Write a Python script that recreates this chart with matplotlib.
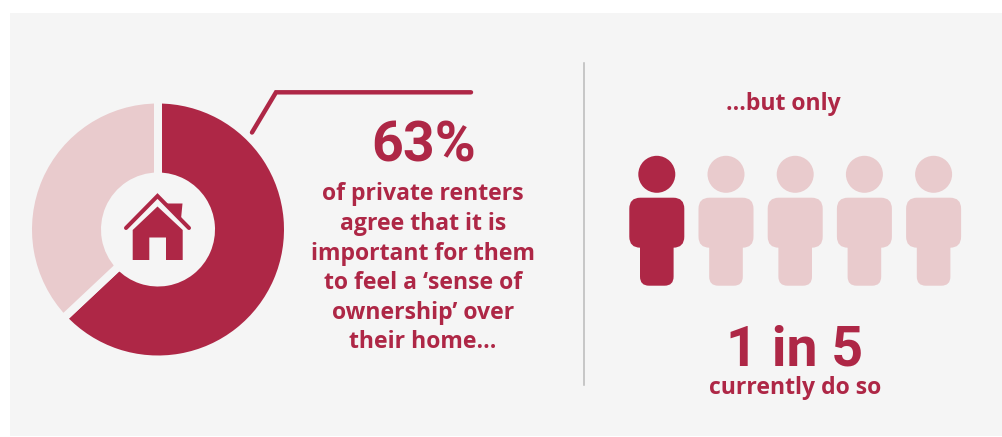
import matplotlib
matplotlib.use('Agg')
import matplotlib.pyplot as plt
from matplotlib.patches import Circle, FancyBboxPatch, Polygon, Rectangle

agree_share = [63, 37]
people_total = 5
people_highlighted = 1

headline = '63%'
agree_lines = ['of private renters', 'agree that it is', 'important for them',
               'to feel a ‘sense of', 'ownership’ over', 'their home...']
lead_in = '...but only'
ratio = '1 in 5'
ratio_note = 'currently do so'

RED = '#ae2746'
PINK = '#e9cbcd'
PANEL = '#f5f5f5'
W, H = 1003, 437

plt.rcParams['font.family'] = ['Open Sans', 'DejaVu Sans']
BIG_FONT = ['Roboto', 'DejaVu Sans']

fig = plt.figure(figsize=(W / 100, H / 100), dpi=100)
ax = fig.add_axes([0, 0, 1, 1])


def Y(py):
    # work in pixels measured from the top
    return H - py


# background panel
ax.add_patch(Rectangle((10, Y(436)), 993, 423, fc=PANEL, ec='none', zorder=0))

# donut, the panel-coloured edge makes the gaps between the slices
ax.pie(agree_share, colors=[RED, PINK], startangle=90, counterclock=False,
       center=(158, Y(229.5)), radius=130, frame=True,
       wedgeprops=dict(width=77, edgecolor=PANEL, linewidth=5.76))

# house icon
ax.plot([126, 157.5, 189], [Y(228), Y(196), Y(228)], color=RED, lw=2.9,
        solid_capstyle='round', solid_joinstyle='miter', zorder=3)
ax.add_patch(Polygon([(167, Y(203.5)), (182.5, Y(203.5)), (181, Y(219)), (167, Y(206))],
                     fc=RED, ec='none', zorder=3))
ax.add_patch(Polygon([(157.5, Y(206.5)), (182.7, Y(230)), (182.7, Y(260)), (166, Y(260)),
                      (166, Y(237.5)), (149.3, Y(237.5)), (149.3, Y(260)), (132.7, Y(260)),
                      (132.7, Y(230))], fc=RED, ec='none', zorder=3))

# leader line from the donut to the headline
ax.plot([252, 276, 471], [Y(132.5), Y(92.3), Y(92.3)], color=RED, lw=3.2,
        solid_capstyle='round', solid_joinstyle='miter', zorder=3)

ax.text(423.5, Y(161.5), headline, color=RED, fontsize=40, fontweight='bold',
        family=BIG_FONT, ha='center', va='baseline')
line_ys = [191.5, 221, 250.5, 280, 310, 339]
for txt, py in zip(agree_lines, line_ys):
    ax.text(423, Y(py), txt, color=RED, fontsize=16.6, fontweight='bold',
            ha='center', va='center_baseline')

# divider
ax.plot([584, 584], [Y(63), Y(385)], color='#b9b9b9', lw=1.1, zorder=1)

ax.text(783, Y(101.5), lead_in, color=RED, fontsize=16.6, fontweight='bold',
        ha='center', va='center_baseline')

# row of people, the highlighted ones come first
for i in range(people_total):
    col = RED if i < people_highlighted else PINK
    cx = 656.8 + i * 69.2
    ax.add_patch(Circle((cx, Y(174.3)), 18.5, fc=col, ec='none', zorder=2))
    ax.add_patch(FancyBboxPatch((cx - 27.5 + 11, Y(247.7) + 11), 33, 28,
                                boxstyle='round,pad=11,rounding_size=11',
                                fc=col, ec='none', zorder=2))
    ax.add_patch(FancyBboxPatch((cx - 16.8 + 9, Y(285.7) + 9), 15.6, 50,
                                boxstyle='round,pad=9,rounding_size=9',
                                fc=col, ec='none', zorder=2))

ax.text(795, Y(366), ratio, color=RED, fontsize=40, fontweight='bold',
        family=BIG_FONT, ha='center', va='baseline')
ax.text(795, Y(385), ratio_note, color=RED, fontsize=16.6, fontweight='bold',
        ha='center', va='center_baseline')

ax.set_xlim(0, W)
ax.set_ylim(0, H)
ax.set_aspect('auto')
ax.axis('off')

fig.savefig('out.png', dpi=100, facecolor='white')
